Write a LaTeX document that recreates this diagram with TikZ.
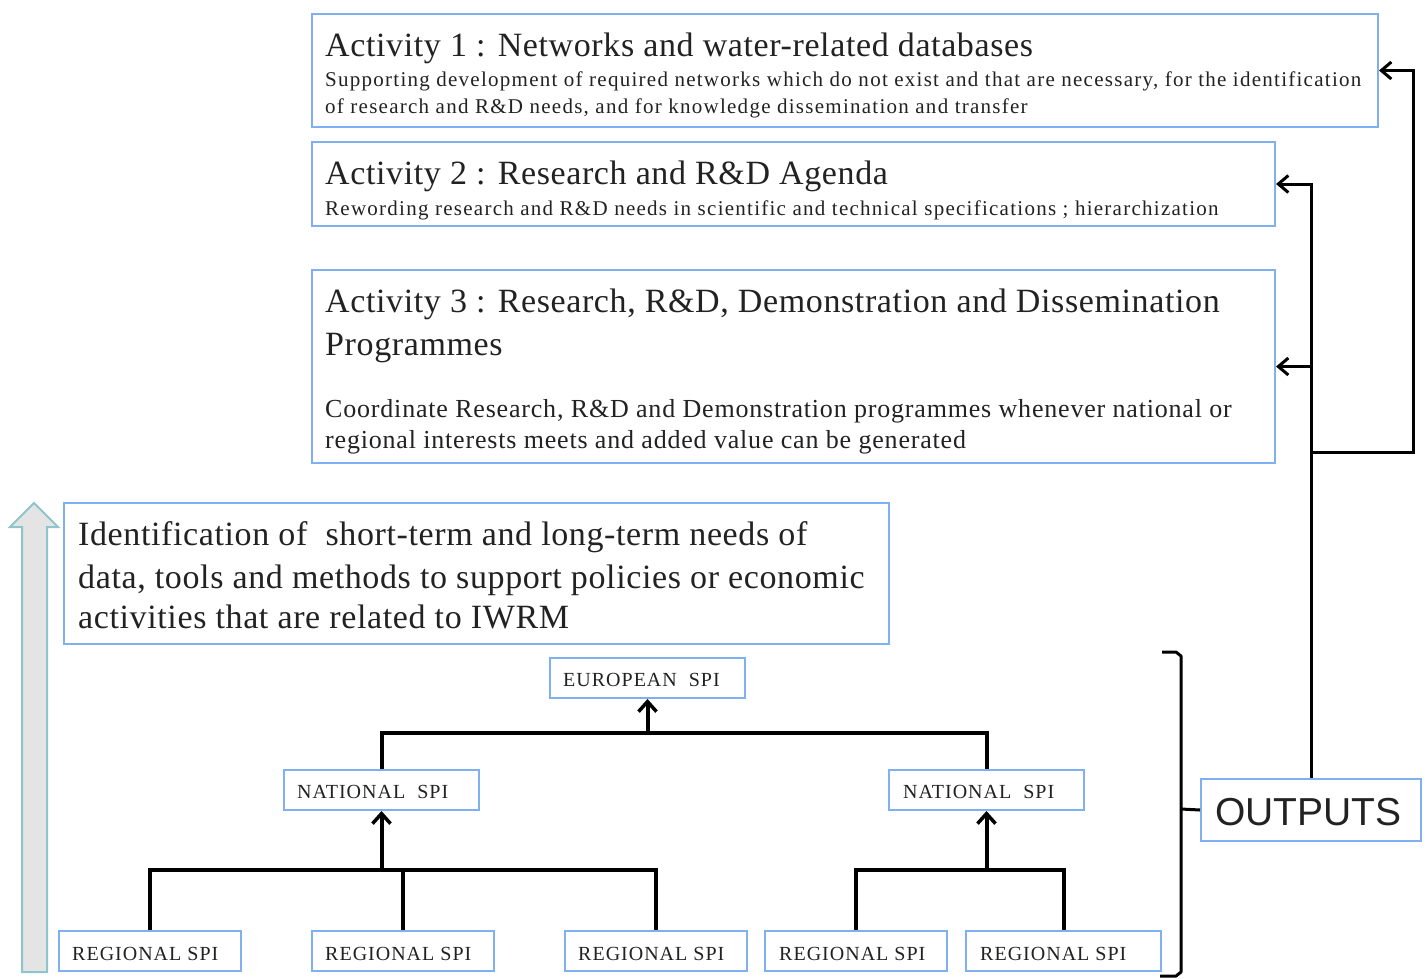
\documentclass[tikz,border=0pt]{standalone}
\usepackage{fontspec}
\setmainfont{Liberation Serif}
\newfontfamily\outfont{Liberation Sans}
\newfontfamily\looseA[LetterSpace=1.8]{Liberation Serif}
\newfontfamily\looseB[LetterSpace=6.0]{Liberation Serif}
\newfontfamily\looseC[LetterSpace=3.1]{Liberation Serif}
\newfontfamily\looseD[LetterSpace=5.0]{Liberation Serif}
\usetikzlibrary{arrows.meta}

\definecolor{boxblue}{HTML}{7FB0F2}
\definecolor{ink}{HTML}{222222}
\definecolor{shaftfill}{HTML}{E4E4E4}
\definecolor{shaftline}{HTML}{8EC4CC}

\newcommand\ftitle{\looseA\fontsize{34}{38}\selectfont}
\newcommand\fsmall{\looseB\fontsize{21}{26}\selectfont}
\newcommand\fbody{\looseC\fontsize{26}{31}\selectfont}
\newcommand\fident{\looseA\fontsize{34}{40}\selectfont}
\newcommand\fspi{\looseD\fontsize{20}{24}\selectfont}
\newcommand\fout{\outfont\fontsize{39}{44}\selectfont}

\begin{document}
\begin{tikzpicture}[x=1pt,y=-1pt,
  box/.style={draw=boxblue,line width=2pt,fill=white,inner sep=0pt,anchor=north west},
  lbl/.style={anchor=base west,inner sep=0pt,text=ink},
  feed/.style={draw=black,line width=3pt},
  tree/.style={draw=black,line width=4pt},
  tip/.style={-{Straight Barb[length=10pt,width=17pt,line width=3pt]}},
  treetip/.style={-{Straight Barb[length=10pt,width=18pt,line width=3.5pt]}}
]
\useasboundingbox (0,0) rectangle (1426,978);

% activity boxes
\node[box,minimum width=1066pt,minimum height=113pt] (a1) at (311,13) {};
\node[box,minimum width=963pt,minimum height=84pt] (a2) at (311,141) {};
\node[box,minimum width=963pt,minimum height=193pt] (a3) at (311,269) {};

\node[lbl,font=\ftitle] (a1t) at (325,56) {Activity 1 : Networks and water-related databases};
\node[lbl,font=\fsmall] (a1s) at (325,86) {Supporting development of required networks which do not exist and that are necessary, for the identification};
\node[lbl,font=\fsmall] (a1u) at (325,113) {of research and R\&D needs, and for knowledge dissemination and transfer};

\node[lbl,font=\ftitle] (a2t) at (325,184) {Activity 2 : Research and R\&D Agenda};
\node[lbl,font=\fsmall] (a2s) at (325,215) {Rewording research and R\&D needs in scientific and technical specifications ; hierarchization};

\node[lbl,font=\ftitle] (a3t) at (325,312) {Activity 3 : Research, R\&D, Demonstration and Dissemination};
\node[lbl,font=\ftitle] (a3u) at (325,355) {Programmes};
\node[lbl,font=\fbody] (a3b) at (325,417) {Coordinate Research, R\&D and Demonstration programmes whenever national or};
\node[lbl,font=\fbody] (a3c) at (325,448) {regional interests meets and added value can be generated};

% identification box
\node[box,minimum width=825pt,minimum height=141pt] (id) at (63,502) {};
\node[lbl,font=\fident] (id1) at (78,545) {Identification of\ \ short-term and long-term needs of};
\node[lbl,font=\fident] (id2) at (78,588) {data, tools and methods to support policies or economic};
\node[lbl,font=\fident] (id3) at (78,628) {activities that are related to IWRM};

% SPI hierarchy
\node[box,minimum width=195pt,minimum height=40pt] (eu) at (549,657) {};
\node[box,minimum width=195pt,minimum height=40pt] (natL) at (283,769) {};
\node[box,minimum width=195pt,minimum height=40pt] (natR) at (888,769) {};
\node[box,minimum width=182pt,minimum height=40pt] (r1) at (58,930) {};
\node[box,minimum width=182pt,minimum height=40pt] (r2) at (311,930) {};
\node[box,minimum width=182pt,minimum height=40pt] (r3) at (564,930) {};
\node[box,minimum width=182pt,minimum height=40pt] (r4) at (764,930) {};
\node[box,minimum width=195pt,minimum height=40pt] (r5) at (965,930) {};

\node[lbl,font=\fspi] (eut) at (563,686) {EUROPEAN\ \ SPI};
\node[lbl,font=\fspi] (nLt) at (297,798) {NATIONAL\ \ SPI};
\node[lbl,font=\fspi] (nRt) at (903,798) {NATIONAL\ \ SPI};
\node[lbl,font=\fspi] (r1t) at (72,960) {REGIONAL SPI};
\node[lbl,font=\fspi] (r2t) at (325,960) {REGIONAL SPI};
\node[lbl,font=\fspi] (r3t) at (578,960) {REGIONAL SPI};
\node[lbl,font=\fspi] (r4t) at (779,960) {REGIONAL SPI};
\node[lbl,font=\fspi] (r5t) at (980,960) {REGIONAL SPI};

\coordinate (barE) at (eu.south |- 0,733);
\coordinate (barL) at (natL.south |- 0,870);
\coordinate (barR) at (natR.south |- 0,870);

\draw[tree] (natL.north) |- (barE) -| (natR.north);
\draw[tree,treetip] (barE) -- (eu.south);
\draw[tree] (r1.north) |- (barL) -| (r3.north);
\draw[tree] (r2.north) -- (r2.north |- barL);
\draw[tree,treetip] (barL) -- (natL.south);
\draw[tree] (r4.north) |- (barR) -| (r5.north);
\draw[tree,treetip] (barR) -- (natR.south);

% outputs
\node[box,minimum width=220pt,minimum height=62pt] (out) at (1200,778) {};
\node[lbl,font=\fout] (outt) at (1215,825) {OUTPUTS};

% bracket gathering the hierarchy
\coordinate (bTop) at (1162,652);
\coordinate (bBot) at (1160,976);
\coordinate (bMid) at (1181,809);
\draw[line width=3pt,line join=round] (bTop) -- (1176,652) -- (1181,656) -- (1181,972) -- (1176,976) -- (bBot);
\draw[line width=3pt] (bMid) -- (out.west);

% feedback to the activities
\coordinate (jn) at (out.north |- 0,452);
\coordinate (rt) at (1413,452);
\draw[feed,tip] (out.north) |- (a2.east);
\draw[feed,tip] (out.north |- a3.east) -- (a3.east);
\draw[feed,tip] (jn) -- (rt) |- (a1.east);

% rising block arrow on the left
\draw[fill=shaftfill,draw=shaftline,line width=2pt,line join=miter]
  (22,972) -- (22,527) -- (10,527) -- (34,503) -- (58,527) -- (47,527) -- (47,972) -- cycle;
\end{tikzpicture}
\end{document}
